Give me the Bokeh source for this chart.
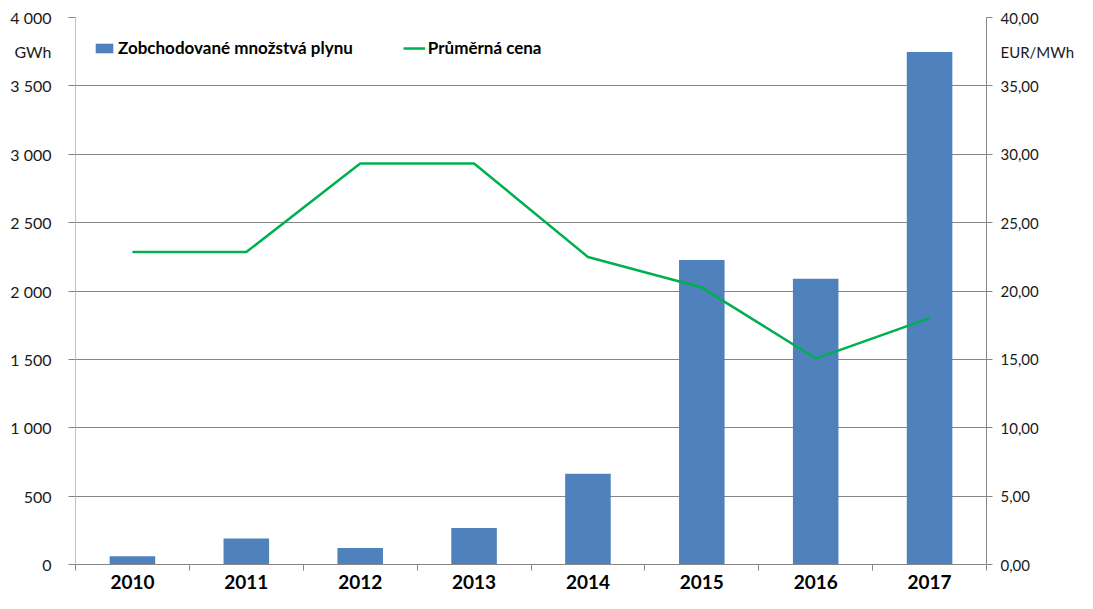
from bokeh.plotting import figure
from bokeh.models import Range1d, LinearAxis, FixedTicker, Legend, LegendItem, ColumnDataSource
from bokeh.embed import file_html
from bokeh.resources import INLINE

years = ["2010", "2011", "2012", "2013", "2014", "2015", "2016", "2017"]
volumes = [60, 190, 120, 267, 663, 2227, 2090, 3748]
prices = [22.85, 22.85, 29.33, 29.33, 22.49, 20.25, 15.06, 18.02]
left_ticks = [0, 500, 1000, 1500, 2000, 2500, 3000, 3500, 4000]
right_ticks = [0, 5, 10, 15, 20, 25, 30, 35, 40]
left_unit = "GWh"
right_unit = "EUR/MWh"

BAR = "#4F81BD"
LINE = "#00B050"
GRID = "#868686"
FONT = "Lato"

W, H = 1077, 593
BL, BR, BT, BB = 75, 85, 17, 29

xpos = [i + 0.5 for i in range(len(years))]
src = ColumnDataSource(dict(x=xpos, year=years, vol=volumes, price=prices))

p = figure(width=W, height=H, x_range=Range1d(0, len(years)), y_range=Range1d(0, 4000),
           output_backend="svg", toolbar_location=None,
           min_border_left=BL, min_border_right=BR, min_border_top=BT, min_border_bottom=BB)
p.outline_line_color = None
p.background_fill_color = "white"

# left axis (unit label sits between the two top ticks, like the original)
lu_pos = (left_ticks[-1] + left_ticks[-2]) / 2
p.yaxis.ticker = FixedTicker(ticks=left_ticks + [lu_pos], minor_ticks=left_ticks)
lo = {t: f"{t:,}".replace(",", " ") for t in left_ticks}
lo[lu_pos] = left_unit
p.yaxis.major_label_overrides = lo
p.yaxis.axis_line_color = "#C0C0C0"
p.yaxis.major_tick_line_color = None
p.yaxis.minor_tick_line_color = GRID
p.yaxis.minor_tick_out = 7
p.yaxis.minor_tick_in = 0
p.yaxis.major_label_standoff = 17
p.yaxis.major_label_text_font = FONT
p.yaxis.major_label_text_font_size = "16px"
p.yaxis.major_label_text_color = "#1a1a1a"

# x axis
p.xaxis.ticker = FixedTicker(ticks=xpos, minor_ticks=list(range(len(years) + 1)))
p.xaxis.major_label_overrides = {x: y for x, y in zip(xpos, years)}
p.xaxis.axis_line_color = GRID
p.xaxis.major_tick_line_color = None
p.xaxis.minor_tick_line_color = GRID
p.xaxis.minor_tick_out = 6
p.xaxis.minor_tick_in = 0
p.xaxis.major_label_standoff = 4
p.xaxis.major_label_text_font = FONT
p.xaxis.major_label_text_font_style = "bold"
p.xaxis.major_label_text_font_size = "19px"
p.xaxis.major_label_text_color = "#000000"

p.xgrid.grid_line_color = None
p.ygrid.ticker = FixedTicker(ticks=left_ticks)
p.ygrid.grid_line_color = GRID
p.ygrid.grid_line_width = 1

# right axis
p.extra_y_ranges = {"price": Range1d(0, 40)}
ru_pos = (right_ticks[-1] + right_ticks[-2]) / 2
ra = LinearAxis(y_range_name="price", ticker=FixedTicker(ticks=right_ticks + [ru_pos], minor_ticks=right_ticks))
ro = {t: f"{t:.2f}".replace(".", ",") for t in right_ticks}
ro[ru_pos] = right_unit
ra.major_label_overrides = ro
ra.axis_line_color = GRID
ra.major_tick_line_color = None
ra.minor_tick_line_color = GRID
ra.minor_tick_out = 6
ra.minor_tick_in = 0
ra.major_label_standoff = 8
ra.major_label_text_font = FONT
ra.major_label_text_font_size = "15px"
ra.major_label_text_color = "#1a1a1a"
p.add_layout(ra, "right")

bars = p.vbar(x="x", top="vol", width=0.4, bottom=0, source=src, fill_color=BAR, line_color=None)
line = p.line(x="x", y="price", source=src, y_range_name="price", line_color=LINE, line_width=2.5)

legend = Legend(items=[LegendItem(label="Zobchodované množstvá plynu", renderers=[bars]),
                       LegendItem(label="Průměrná cena", renderers=[line])],
                orientation="horizontal", location=(18, H - BT - BB - 41))
legend.padding = 0
legend.margin = 0
legend.spacing = 50
legend.border_line_color = None
legend.background_fill_alpha = 0
legend.glyph_width = 22
legend.glyph_height = 12
legend.label_standoff = 3
legend.label_text_font = FONT
legend.label_text_font_style = "bold"
legend.label_text_font_size = "17px"
legend.label_text_color = "#000000"
p.add_layout(legend, "center")

open("out.html", "w").write(file_html(p, INLINE))
